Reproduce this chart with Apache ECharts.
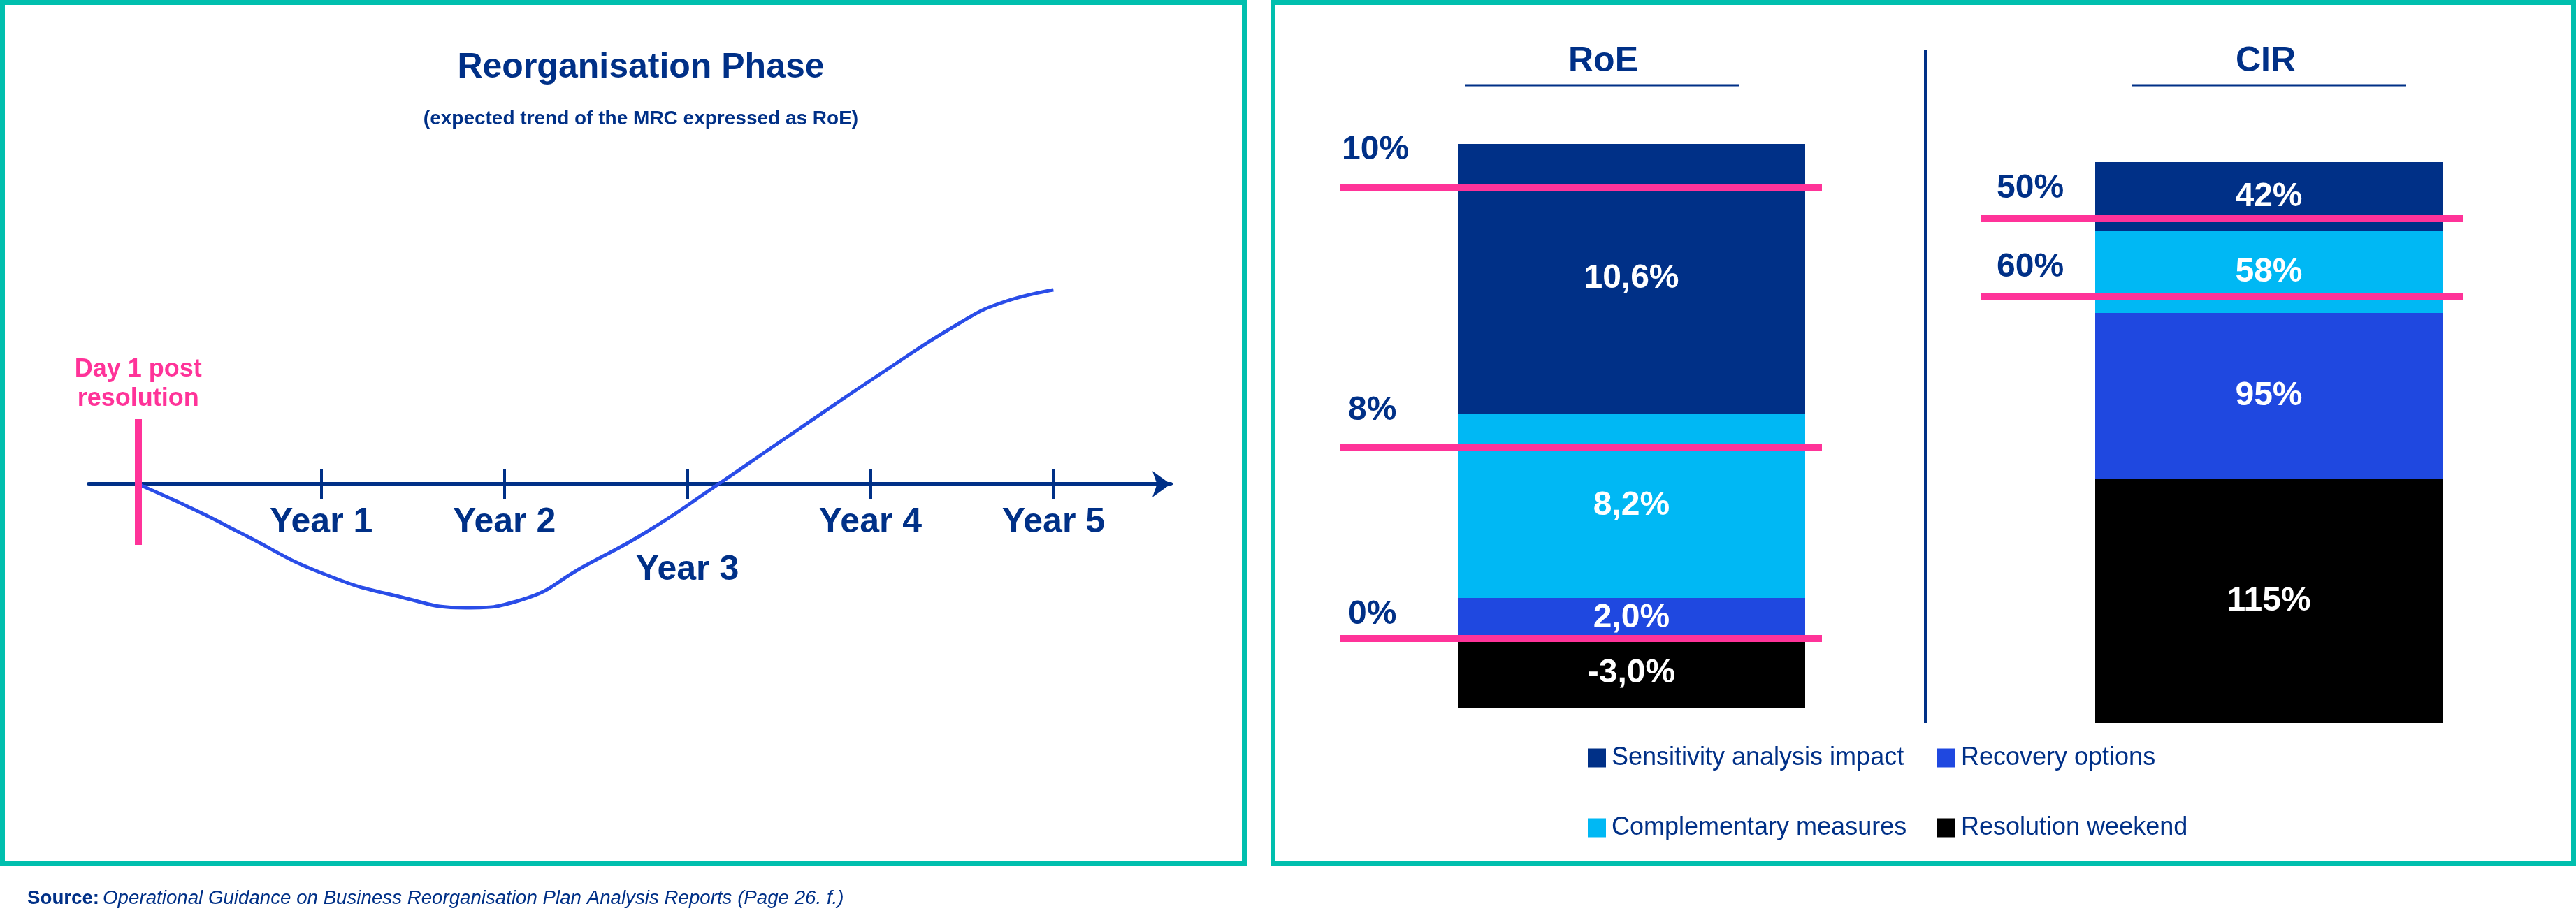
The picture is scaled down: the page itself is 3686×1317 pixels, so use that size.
<!DOCTYPE html>
<html>
<head>
<meta charset="utf-8">
<title>Reorganisation Phase</title>
<script src="https://cdn.jsdelivr.net/npm/echarts@6.0.0/dist/echarts.min.js"></script>
<style>
    html, body { margin: 0; padding: 0; background: #ffffff; }
    #chart { width: 3686px; height: 1317px; }
</style>
</head>
<body>
<div id="chart"></div>
<script>
// left panel: expected trend of the MRC (RoE), x = years after resolution
var trendYears = [0, 0.23, 0.39, 0.56, 1.0, 1.44, 1.79, 2.09, 2.44, 2.78, 3.17, 3.42, 3.61, 4.05, 4.49, 4.71, 5.0];
var trendLevel = [0, -2.7, -4.7, -7.0, -12.7, -16.2, -17.7, -16.6, -11.7, -6.8, 0, 4.5, 7.9, 15.7, 23.1, 25.9, 27.8];
var yearTicks = [1, 2, 3, 4, 5];
var yearLabels = ['Year 1', 'Year 2', 'Year 3', 'Year 4', 'Year 5'];
var day1Span = [-8.7, 9.3];

// right panel: stacked bars, bottom segment first (drawn heights)
var seriesNames = ['Resolution weekend', 'Recovery options', 'Complementary measures', 'Sensitivity analysis impact'];
var roeHeights = [-3.0, 1.76, 8.0, 11.7];
var roeLabels = ['-3,0%', '2,0%', '8,2%', '10,6%'];
var roeMarks = [0, 8.27, 19.6];
var roeMarkLabels = ['0%', '8%', '10%'];
var cirHeights = [43.5, 29.6, 14.6, 12.3];
var cirLabels = ['115%', '95%', '58%', '42%'];
var cirMarks = [89.9, 76.0];
var cirMarkLabels = ['50%', '60%'];

var NAVY = '#003087', PINK = '#FF3399', TEAL = '#00BFAE';
var segColors = ['#000000', '#1F48E0', '#00B8F4', '#003087'];
var FONT = 'Liberation Sans, Arial, sans-serif';

function sum(arr) {
    var s = 0;
    arr.forEach(function (v) { if (v > 0) s += v; });
    return s;
}
function neg(arr) {
    var s = 0;
    arr.forEach(function (v) { if (v < 0) s += v; });
    return s;
}

var roeMin = neg(roeHeights), roeMax = sum(roeHeights);
var cirMin = 0, cirMax = sum(cirHeights);

var chart = echarts.init(document.getElementById('chart'));

var grids = [
    {left: 127, top: 393, width: 1548, height: 500},   // trend
    {left: 2086, top: 206, width: 497, height: 807},   // RoE bar
    {left: 1918, top: 206, width: 689, height: 807},   // RoE thresholds
    {left: 2998, top: 232, width: 497, height: 803},   // CIR bar
    {left: 2835, top: 232, width: 689, height: 803}    // CIR thresholds
];
grids.forEach(function (g) { g.containLabel = false; g.outerBoundsMode = 'none'; });

var hidden = {show: false};
// axis index k (k >= 1) of the bar grids: x index k + 1, y index k
var xAxes = [
    {
        type: 'value', gridIndex: 0, min: -0.27, max: 5.64, position: 'bottom',
        axisLine: {show: true, onZero: true, onZeroAxisIndex: 0, symbol: ['none', 'arrow'], symbolSize: [28, 26],
            lineStyle: {color: NAVY, width: 6}},
        axisTick: {show: true, customValues: yearTicks, length: 21, lineStyle: {color: NAVY, width: 4}},
        axisLabel: {
            // labels stay on the grid edge, so pull them up to the zero line
            show: true, customValues: yearTicks, margin: -179,
            color: NAVY, fontFamily: FONT, fontWeight: 'bold', fontSize: 50, lineHeight: 68,
            formatter: function (v) {
                var i = yearTicks.indexOf(v);
                // Year 3 sits one line lower, below the curve crossing
                return i === 2 ? '\n' + yearLabels[i] : yearLabels[i];
            }
        },
        splitLine: hidden
    },
    {
        type: 'value', gridIndex: 0, min: -0.27, max: 5.64, position: 'top',
        axisLine: {show: false, onZero: true, onZeroAxisIndex: 0},
        axisTick: {show: true, inside: false, customValues: yearTicks, length: 21, lineStyle: {color: NAVY, width: 4}},
        axisLabel: hidden, splitLine: hidden
    },
    {type: 'category', gridIndex: 1, data: ['RoE'], show: false},
    {type: 'category', gridIndex: 2, data: ['RoE'], show: false},
    {type: 'category', gridIndex: 3, data: ['CIR'], show: false},
    {type: 'category', gridIndex: 4, data: ['CIR'], show: false}
];
var yAxes = [
    {type: 'value', gridIndex: 0, min: -20, max: 30, show: false},
    {type: 'value', gridIndex: 1, min: roeMin, max: roeMax, show: false},
    {type: 'value', gridIndex: 2, min: roeMin, max: roeMax, show: false},
    {type: 'value', gridIndex: 3, min: cirMin, max: cirMax, show: false},
    {type: 'value', gridIndex: 4, min: cirMin, max: cirMax, show: false}
];

var series = [{
    type: 'line',
    xAxisIndex: 0, yAxisIndex: 0,
    data: trendYears.map(function (t, i) { return [t, trendLevel[i]]; }),
    smooth: 0.5,
    showSymbol: false,
    lineStyle: {color: '#2A4DE8', width: 5},
    markLine: {
        silent: true, symbol: 'none',
        lineStyle: {color: PINK, width: 10, type: 'solid'},
        label: {
            show: true, position: 'end', distance: 8,
            formatter: 'Day 1 post\nresolution',
            color: PINK, fontFamily: FONT, fontWeight: 'bold', fontSize: 36, lineHeight: 42
        },
        data: [[{coord: [0, day1Span[0]]}, {coord: [0, day1Span[1]]}]]
    }
}];

function barSeries(heights, labels, stack, k) {
    heights.forEach(function (h, i) {
        series.push({
            name: seriesNames[i],
            type: 'bar',
            stack: stack,
            xAxisIndex: k + 1, yAxisIndex: k,
            barWidth: '100%',
            data: [h],
            itemStyle: {color: segColors[i]},
            label: {
                show: true, position: 'inside', formatter: labels[i],
                color: '#ffffff', fontFamily: FONT, fontWeight: 'bold', fontSize: 48
            }
        });
    });
}
barSeries(roeHeights, roeLabels, 'roe', 1);
barSeries(cirHeights, cirLabels, 'cir', 3);

function thresholdSeries(marks, markLabels, k, lifts, insets) {
    series.push({
        type: 'line',
        xAxisIndex: k + 1, yAxisIndex: k,
        data: [],
        z: 5,
        markLine: {
            silent: true, symbol: 'none',
            lineStyle: {color: PINK, width: 10, type: 'solid'},
            data: marks.map(function (m, i) {
                return {
                    yAxis: m,
                    label: {
                        show: true, position: 'insideStartTop', formatter: markLabels[i],
                        distance: [insets[i], lifts[i]],
                        color: NAVY, fontFamily: FONT, fontWeight: 'bold', fontSize: 48
                    }
                };
            })
        }
    });
}
thresholdSeries(roeMarks, roeMarkLabels, 2, [10, 29, 29], [11, 11, 2]);
thresholdSeries(cirMarks, cirMarkLabels, 4, [19, 18], [22, 22]);

var titleStyle = {color: NAVY, fontFamily: FONT, fontWeight: 'bold', fontSize: 50};

var option = {
    animation: false,
    backgroundColor: '#ffffff',
    title: [
        {text: 'Reorganisation Phase', left: 917, top: 72, textAlign: 'center', padding: 0, textStyle: titleStyle},
        {text: '(expected trend of the MRC expressed as RoE)', left: 917, top: 156, textAlign: 'center', padding: 0,
            textStyle: {color: NAVY, fontFamily: FONT, fontWeight: 'bold', fontSize: 28}},
        {text: 'RoE', left: 2294, top: 63, textAlign: 'center', padding: 0, textStyle: titleStyle},
        {text: 'CIR', left: 3242, top: 63, textAlign: 'center', padding: 0, textStyle: titleStyle},
        {
            text: '{b|Source:} {i|Operational Guidance on Business Reorganisation Plan Analysis Reports (Page 26. f.)}',
            left: 39, top: 1272, padding: 0,
            textStyle: {
                rich: {
                    b: {color: NAVY, fontFamily: FONT, fontWeight: 'bold', fontSize: 27.7},
                    i: {color: NAVY, fontFamily: FONT, fontWeight: 'normal', fontStyle: 'italic', fontSize: 27.7}
                }
            }
        }
    ],
    legend: [
        {
            data: ['Sensitivity analysis impact', 'Complementary measures'],
            orient: 'vertical', left: 2272, top: 1067, padding: 0,
            icon: 'rect', itemWidth: 26, itemHeight: 27, itemGap: 64,
            selectedMode: false,
            textStyle: {color: NAVY, fontFamily: FONT, fontSize: 36, lineHeight: 36, padding: [0, 0, 0, 3]}
        },
        {
            data: ['Recovery options', 'Resolution weekend'],
            orient: 'vertical', left: 2772, top: 1067, padding: 0,
            icon: 'rect', itemWidth: 26, itemHeight: 27, itemGap: 64,
            selectedMode: false,
            textStyle: {color: NAVY, fontFamily: FONT, fontSize: 36, lineHeight: 36, padding: [0, 0, 0, 3]}
        }
    ],
    grid: grids,
    xAxis: xAxes,
    yAxis: yAxes,
    series: series,
    graphic: [
        {type: 'rect', shape: {x: 3.5, y: 3.5, width: 1777, height: 1233},
            style: {fill: 'none', stroke: TEAL, lineWidth: 7}, silent: true},
        {type: 'rect', shape: {x: 1821.5, y: 3.5, width: 1861, height: 1233},
            style: {fill: 'none', stroke: TEAL, lineWidth: 7}, silent: true},
        {type: 'line', shape: {x1: 2755, y1: 71, x2: 2755, y2: 1035},
            style: {stroke: NAVY, lineWidth: 4}, silent: true},
        {type: 'line', shape: {x1: 2096, y1: 122, x2: 2488, y2: 122},
            style: {stroke: NAVY, lineWidth: 3}, silent: true},
        {type: 'line', shape: {x1: 3051, y1: 122, x2: 3443, y2: 122},
            style: {stroke: NAVY, lineWidth: 3}, silent: true}
    ]
};

chart.setOption(option);
</script>
</body>
</html>
